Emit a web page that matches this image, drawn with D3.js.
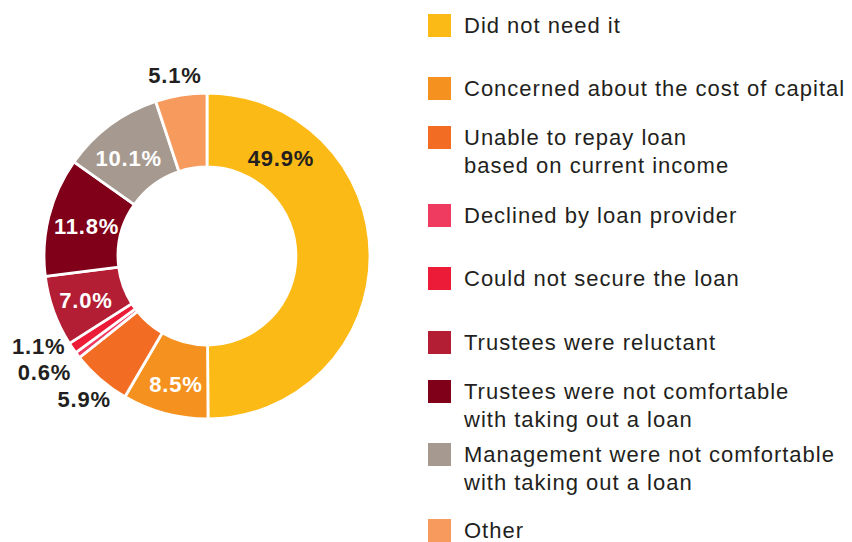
<!DOCTYPE html>
<html>
<head>
<meta charset="utf-8">
<script src="https://cdn.jsdelivr.net/npm/d3@7/dist/d3.min.js"></script>
<style>
  html, body { margin: 0; padding: 0; background: #fff; }
  svg { display: block; }
  text { font-family: "Liberation Sans", Arial, Helvetica, sans-serif; }
</style>
</head>
<body>
<svg id="chart" width="852" height="542"></svg>
<script>
// Reasons for not taking out a loan (share of respondents, %)
const categories = [
  "Did not need it",
  "Concerned about the cost of capital",
  "Unable to repay loan\nbased on current income",
  "Declined by loan provider",
  "Could not secure the loan",
  "Trustees were reluctant",
  "Trustees were not comfortable\nwith taking out a loan",
  "Management were not comfortable\nwith taking out a loan",
  "Other"
];
const values = [49.9, 8.5, 5.9, 0.6, 1.1, 7.0, 11.8, 10.1, 5.1];
const colors = ["#FBBA16", "#F5921F", "#F26C23", "#EF3B60", "#EC1C38", "#B31E34", "#800019", "#A69A90", "#F69A5E"];

// Label placement: angle (degrees clockwise from 12 o'clock), distance from centre, text colour
const labelAngle  = [37.3, 193.6, 220.5, 234.4, 241.8, 249.9, 283.8, 321.2, 349.9];
const labelRadius = [122, 132, 189, 200, 191, 129, 124, 125, 183];
const labelFill   = ["#231F20", "#FFFFFF", "#231F20", "#231F20", "#231F20", "#FFFFFF", "#FFFFFF", "#FFFFFF", "#231F20"];

// Legend swatch tops
const legendTop = [14, 77, 126, 204, 267, 331, 380, 443, 519];

const svg = d3.select("#chart");
const cx = 207, cy = 256, outerR = 163, innerR = 89;

const data = categories.map((c, i) => ({ name: c, value: values[i], color: colors[i], i }));

const pie = d3.pie().value(d => d.value).sort(null);
const arc = d3.arc().innerRadius(innerR).outerRadius(outerR);

const g = svg.append("g").attr("transform", `translate(${cx},${cy})`);

g.selectAll("path.slice")
  .data(pie(data))
  .join("path")
  .attr("class", "slice")
  .attr("d", arc)
  .attr("fill", d => d.data.color)
  .attr("stroke", "#fff")
  .attr("stroke-width", 2.8)
  .attr("stroke-linejoin", "miter");

g.selectAll("text.val")
  .data(data)
  .join("text")
  .attr("class", "val")
  .attr("x", d => labelRadius[d.i] * Math.sin(labelAngle[d.i] * Math.PI / 180))
  .attr("y", d => -labelRadius[d.i] * Math.cos(labelAngle[d.i] * Math.PI / 180))
  .attr("text-anchor", "middle")
  .attr("dominant-baseline", "central")
  .attr("font-size", 22)
  .attr("font-weight", "bold")
  .attr("letter-spacing", 0.8)
  .attr("fill", d => labelFill[d.i])
  .text(d => d3.format(".1f")(d.value) + "%");

// Legend
const lg = svg.append("g");
const items = lg.selectAll("g.item")
  .data(data)
  .join("g")
  .attr("class", "item")
  .attr("transform", d => `translate(428,${legendTop[d.i]})`);

items.append("rect")
  .attr("width", 23)
  .attr("height", 23)
  .attr("fill", d => d.color);

items.append("text")
  .attr("x", 36)
  .attr("y", 19)
  .attr("font-size", 22)
  .attr("letter-spacing", 1)
  .attr("fill", "#231F20")
  .selectAll("tspan")
  .data(d => d.name.split("\n"))
  .join("tspan")
  .attr("x", 36)
  .attr("dy", (d, k) => k === 0 ? 0 : 28)
  .text(d => d);
</script>
</body>
</html>
